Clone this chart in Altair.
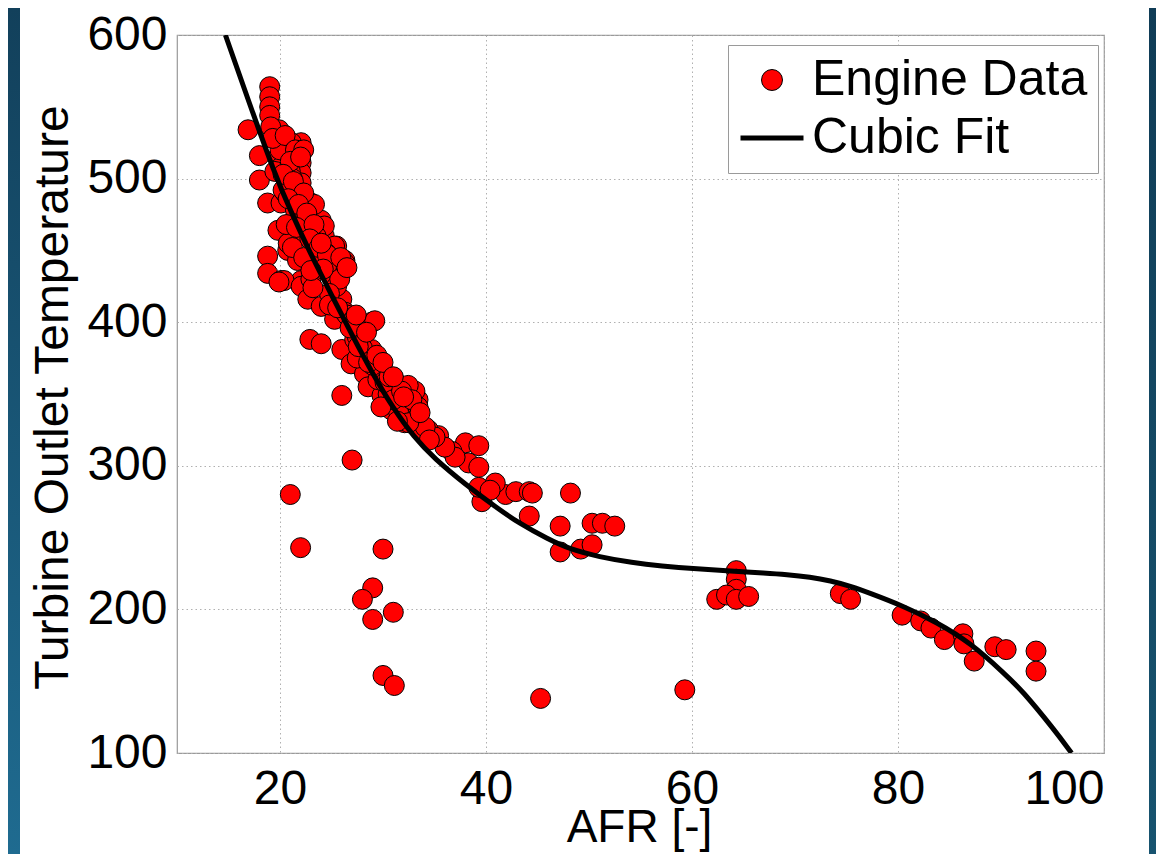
import altair as alt
import pandas as pd

# ---------------- data ----------------
series_names = ["Engine Data", "Cubic Fit"]
x_ticks = [20, 40, 60, 80, 100]
y_ticks = [100, 200, 300, 400, 500, 600]

# Engine data (AFR, turbine outlet temperature)
afr = [
    # scattered low points
    21.0, 22.0, 27.0, 26.0, 30.0, 29.0, 28.0, 31.0, 29.0, 30.0, 31.1, 45.3, 59.3,
    # mid range
    48.2, 47.2, 47.2, 49.2, 50.3, 50.3, 51.3, 52.5, 44.2, 41.9, 42.9, 44.2, 44.5,
    40.9, 39.6, 39.3, 40.4, 38.0, 39.3, 38.3, 39.3, 36.7, 35.4, 34.4, 37.0, 36.0,
    35.05, 33.75, 32.1, 33.1, 32.45, 33.4, 32.8,
    # right group
    64.3, 64.3, 64.3, 62.4, 63.35, 64.3, 65.5, 74.4, 75.4, 80.4, 82.2, 83.2, 84.5,
    86.3, 86.4, 87.4, 89.4, 90.5, 93.4, 93.4,
    # dense upper band
    19.0, 19.0, 19.0, 19.0, 16.9, 19.9, 19.1, 22.05, 22.05, 22.05, 22.05, 22.05,
    21.1, 20.75, 19.8, 20.1, 18.0, 18.0, 20.75, 18.8, 20.1, 23.0, 21.7, 19.8,
    21.4, 24.0, 22.4, 24.3, 18.8, 20.75, 25.5, 26.3, 18.8, 20.1, 23.0, 25.0,
    22.05, 23.35, 24.3, 25.3, 26.3, 20.4, 22.05, 21.7, 22.7, 26.0, 24.0, 25.3,
    28.9, 27.9, 22.9, 24.0, 26.0, 28.9, 27.25, 26.9, 29.9, 28.2, 28.55, 31.15,
    33.1, 32.45, 29.9, 30.8, 31.8, 32.8, 33.4, 34.1, 19.9, 26.3, 29.2,
    19.5, 20.5, 21.5, 22.5, 23.5, 24.5, 25.5, 26.5, 27.5, 28.5, 29.5, 30.5,
    31.5, 32.5, 20.0, 21.0, 22.5, 23.5, 24.5, 25.8, 27.0, 28.0, 29.0, 30.2,
    31.0, 34.5, 21.5, 23.0, 24.8, 27.5, 20.3, 21.2, 22.8, 19.3, 20.8, 23.8,
    20.5, 21.5, 22.3, 21.0, 22.0, 20.3, 21.3, 22.3, 20.8, 21.8, 22.6, 20.6,
    21.6, 23.3, 22.9, 21.2, 23.8, 24.6, 22.3, 24.2, 23.2, 24.8, 25.6, 26.8,
    27.6, 28.6, 29.4, 30.6, 31.8, 32.8, 33.6, 31.4, 29.8, 25.9, 26.5, 27.4,
    28.4, 30.0, 31.0, 32.0, 24.0, 23.0,
]
tot = [
    280, 243, 304, 349, 242, 215, 207, 198, 193, 154, 147, 138, 144,
    281, 258, 240, 242, 245, 260, 260, 258, 265, 280, 282, 282, 281,
    288, 275, 285, 283, 316, 314, 302, 299, 310, 321, 325, 306, 313,
    320, 325, 330, 334, 341, 346, 353,
    227, 221, 214, 207, 210, 207, 209, 211, 207, 196, 192, 187, 179,
    183, 176, 164, 174, 172, 171, 157,
    564, 557, 550, 544, 534, 534, 536, 525, 518, 511, 504, 497,
    525, 515, 515, 508, 516, 499, 497, 483, 483, 483, 490, 464,
    471, 471, 462, 460, 446, 450, 453, 443, 434, 429, 441, 432,
    429, 482, 467, 453, 441, 429, 425, 443, 416, 416, 411, 402,
    400, 395, 388, 385, 381, 381, 388, 371, 367, 364, 355, 359,
    352, 356, 349, 339, 344, 337, 341, 327, 428, 407, 401,
    505, 490, 478, 465, 450, 438, 425, 405, 390, 375, 360, 350,
    338, 330, 520, 505, 475, 460, 448, 430, 400, 382, 370, 358,
    346, 318, 460, 430, 420, 375, 492, 500, 470, 528, 455, 445,
    530, 520, 520, 512, 515, 503, 498, 490, 486, 482, 476, 468,
    466, 468, 458, 452, 452, 447, 445, 437, 424, 412, 410, 396,
    383, 372, 377, 362, 352, 346, 337, 331, 341, 445, 438, 405,
    393, 372, 362, 348, 455, 436,
]

# Cubic fit curve
fit_afr = [14.7, 17.0, 19.5, 21.0, 23.0, 25.0, 27.0, 29.0, 31.0, 33.0, 35.0,
           38.0, 41.0, 43.2, 46.0, 48.1, 51.0, 54.2, 57.0, 60.4, 64.3, 67.0,
           69.2, 71.5, 73.4, 75.5, 77.3, 80.3, 83.8, 87.1, 90.3, 92.0, 95.2, 96.85]
fit_tot = [600, 553, 503, 478, 447, 419, 391, 364, 340, 320, 305,
           287, 271, 260, 249, 242, 236.5, 232.5, 230.2, 228.2, 226.5, 225.4,
           224.3, 222.5, 220, 216, 211.2, 203, 191, 176.4, 155.5, 144, 116, 100]

pts = pd.DataFrame({"AFR": afr, "TOT": tot})
pts["series"] = "Engine Data"
fit = pd.DataFrame({"AFR": fit_afr, "TOT": fit_tot})
deco = pd.DataFrame({"k": [0]})

# ---------------- styling ----------------
W, H = 927, 718
FONT = "Liberation Sans"

xscale = alt.Scale(domain=[10, 100], nice=False, zero=False)
yscale = alt.Scale(domain=[100, 600], nice=False, zero=False)

xaxis = alt.Axis(values=x_ticks, title="AFR [-]", labelPadding=12,
                 titleX=462, titleY=52.5, titleBaseline="top", titleFontSize=46)
yaxis = alt.Axis(values=y_ticks, title="Turbine Outlet Temperature", labelPadding=10,
                 titleX=-100, titleY=362, titleAngle=270, titleBaseline="bottom")

leg = alt.Legend(title=None, orient="none", legendX=551, legendY=10,
                 direction="vertical", padding=10, rowPadding=8,
                 symbolOffset=9, labelOffset=15, symbolSize=441,
                 labelFont=FONT, labelFontSize=50, labelColor="black",
                 labelLimit=500, strokeColor="#9a9a9a", fillColor="white")

grad_left = alt.LinearGradient(
    gradient="linear",
    stops=[alt.GradientStop(color="#12405b", offset=0),
           alt.GradientStop(color="#1f6b90", offset=1)],
    x1=0, x2=0, y1=0, y2=1)
grad_right = alt.LinearGradient(
    gradient="linear",
    stops=[alt.GradientStop(color="#103c56", offset=0),
           alt.GradientStop(color="#17536f", offset=1)],
    x1=0, x2=0, y1=0, y2=1)

left_strip = alt.Chart(deco).mark_rect(fill=grad_left).encode(
    x=alt.value(-169), x2=alt.value(-157), y=alt.value(-27), y2=alt.value(819))
right_strip = alt.Chart(deco).mark_rect(fill=grad_right).encode(
    x=alt.value(972), x2=alt.value(979), y=alt.value(-27), y2=alt.value(819))

points = alt.Chart(pts).mark_point(filled=True, size=400, opacity=1).encode(
    x=alt.X("AFR:Q", scale=xscale, axis=xaxis),
    y=alt.Y("TOT:Q", scale=yscale, axis=yaxis),
    fill=alt.Fill("series:N", legend=leg,
                  scale=alt.Scale(domain=series_names, range=["#ff0000", "transparent"])),
    stroke=alt.Stroke("series:N", legend=leg,
                      scale=alt.Scale(domain=series_names, range=["#000000", "#000000"])),
    shape=alt.Shape("series:N", legend=leg,
                    scale=alt.Scale(domain=series_names, range=["circle", "M-3,0H3"])),
    strokeWidth=alt.StrokeWidth("series:N", legend=leg,
                                scale=alt.Scale(type="ordinal", domain=series_names, range=[1, 5])),
)

line = alt.Chart(fit).mark_line(stroke="black", strokeWidth=5, interpolate="basis",
                                clip=True).encode(
    x=alt.X("AFR:Q", scale=xscale),
    y=alt.Y("TOT:Q", scale=yscale),
)

chart = alt.layer(left_strip, right_strip, points, line).properties(
    width=W, height=H,
    padding={"left": 169, "top": 27, "right": 52, "bottom": 101},
    autosize=alt.AutoSizeParams(type="none"),
    background="white",
).configure(
    style={"guide-label": {"font": FONT, "fontSize": 48, "fill": "black"},
           "guide-title": {"font": FONT, "fontSize": 48, "fill": "black"}},
).configure_view(
    stroke="#9a9a9a", strokeWidth=1.2, fill="white",
).configure_axis(
    labelFont=FONT, labelFontSize=48, labelColor="black",
    titleFont=FONT, titleFontSize=48, titleFontWeight="normal", titleColor="black",
    grid=True, gridColor="#b0b0b0", gridDash=[1.5, 3], gridWidth=1,
    domain=False, ticks=False, tickSize=0,
)

chart.save("out.html", embed_options={"renderer": "svg", "actions": False})
